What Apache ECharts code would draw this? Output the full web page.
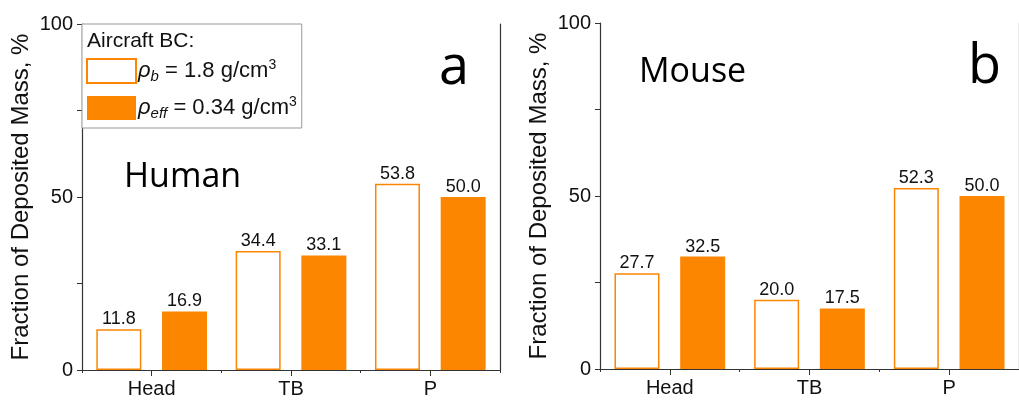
<!DOCTYPE html>
<html><head><meta charset="utf-8">
<script src="https://cdn.jsdelivr.net/npm/echarts@6/dist/echarts.min.js"></script>
<style>html,body{margin:0;padding:0;background:#fff}#c{width:1019px;height:401px}</style>
</head><body><div id="c"></div>
<script>
const categories = ['Head', 'TB', 'P'];
const humanBulk = [11.8, 34.4, 53.8];
const humanEff = [16.9, 33.1, 50.0];
const mouseBulk = [27.7, 20.0, 52.3];
const mouseEff = [32.5, 17.5, 50.0];
const yTicks = [0, 50, 100];
const nameBulk = 'ρb = 1.8 g/cm3';
const nameEff = 'ρeff = 0.34 g/cm3';

const ORANGE = '#FC8600';
const FONT = 'Liberation Sans, Arial, sans-serif';
const TFONT = 'Open Sans, sans-serif';
const chart = echarts.init(document.getElementById('c'), null, {renderer: 'canvas'});

const grids = [
  {left: 82, top: 24, width: 418, height: 346},
  {left: 600, top: 23, width: 429, height: 346}
];
function xAxes(gi) {
  return [
    {type: 'category', gridIndex: gi, data: categories,
     axisLine: {show: true, onZero: false, lineStyle: {color: '#333', width: 1.2}},
     axisTick: {show: true, alignWithLabel: true, inside: false, length: 6, lineStyle: {color: '#333'}},
     axisLabel: {color: '#111', fontSize: 20, fontFamily: FONT, margin: 9}},
    {type: 'category', gridIndex: gi, data: categories, position: 'bottom',
     axisLine: {show: false}, axisTick: {show: true, length: 3, lineStyle: {color: '#333'}},
     axisLabel: {show: false}},
    {type: 'category', gridIndex: gi, data: categories, position: 'top',
     axisLine: {show: true, lineStyle: {color: '#333', width: 1.2}}, axisTick: {show: false},
     axisLabel: {show: false}}
  ];
}
function yAxes(gi, gap) {
  return [
    {type: 'value', gridIndex: gi, min: 0, max: 100, interval: 50,
     name: 'Fraction of Deposited Mass, %', nameLocation: 'middle', nameGap: gap,
     nameTextStyle: {color: '#111', fontSize: 24, fontFamily: FONT},
     axisLine: {show: true, lineStyle: {color: '#333', width: 1.2}},
     axisTick: {show: true, length: 5, lineStyle: {color: '#333'}},
     minorTick: {show: true, splitNumber: 2, length: 5, lineStyle: {color: '#333'}},
     splitLine: {show: false},
     axisLabel: {color: '#111', fontSize: 20, fontFamily: FONT, margin: 9,
       formatter: v => yTicks.includes(v) ? String(v) : ''}},
    {type: 'value', gridIndex: gi, min: 0, max: 100, position: 'right',
     axisLine: {show: true, lineStyle: {color: '#333', width: 1.2}},
     axisTick: {show: false}, axisLabel: {show: false}, splitLine: {show: false}}
  ];
}
const labelCfg = {show: true, position: 'top', distance: 1, color: '#111', fontSize: 18, fontFamily: FONT,
  formatter: p => p.value.toFixed(1)};
function bars(name, data, xi, yi, hollow) {
  return {
    name: name, type: 'bar', xAxisIndex: xi, yAxisIndex: yi, data: data,
    barWidth: 45, barGap: '46%',
    itemStyle: hollow ? {color: '#fff', borderColor: ORANGE, borderWidth: 1.5} : {color: ORANGE},
    label: labelCfg
  };
}
const rich = {
  r: {fontSize: 22, fontStyle: 'italic', fontFamily: FONT, color: '#111'},
  s: {fontSize: 15, fontStyle: 'italic', fontFamily: FONT, color: '#111', verticalAlign: 'bottom', padding: [11, 0, 0, 0]},
  n: {fontSize: 22, fontFamily: FONT, color: '#111'},
  p: {fontSize: 14, fontFamily: FONT, color: '#111', verticalAlign: 'top', padding: [0, 0, 10, 0]}
};
const option = {
  animation: false,
  grid: grids,
  xAxis: [...xAxes(0), ...xAxes(1)],
  yAxis: [...yAxes(0, 49), ...yAxes(1, 49)],
  legend: {
    orient: 'vertical', left: 82, top: 24, itemWidth: 49, itemHeight: 24, itemGap: 11,
    padding: [34, 5, 7, 4], borderColor: '#999', borderWidth: 1, backgroundColor: '#fff',
    icon: 'rect',
    data: [nameBulk, nameEff],
    formatter: n => n === nameBulk ? '{r|ρ}{s|b}{n| = 1.8 g/cm}{p|3}' : '{r|ρ}{s|eff}{n| = 0.34 g/cm}{p|3}',
    textStyle: {rich: rich, padding: [0, 0, 0, -3]}
  },
  graphic: [
    {type: 'text', left: 87, top: 31, z: 100, style: {text: 'Aircraft BC:', fontSize: 21, fontFamily: FONT, fill: '#111'}},
    {type: 'text', left: 124, top: 160, style: {text: 'Human', fontSize: 34, fontFamily: TFONT, fill: '#000'}},
    {type: 'text', left: 439, top: 42, style: {text: 'a', fontSize: 54, fontFamily: TFONT, fill: '#000'}},
    {type: 'text', left: 639, top: 55, style: {text: 'Mouse', fontSize: 34, fontFamily: TFONT, fill: '#000'}},
    {type: 'text', left: 968, top: 41, style: {text: 'b', fontSize: 54, fontFamily: TFONT, fill: '#000'}}
  ],
  series: [
    bars(nameBulk, humanBulk, 0, 0, true),
    bars(nameEff, humanEff, 0, 0, false),
    bars(nameBulk, mouseBulk, 3, 2, true),
    bars(nameEff, mouseEff, 3, 2, false)
  ]
};
chart.setOption(option);
</script></body></html>
